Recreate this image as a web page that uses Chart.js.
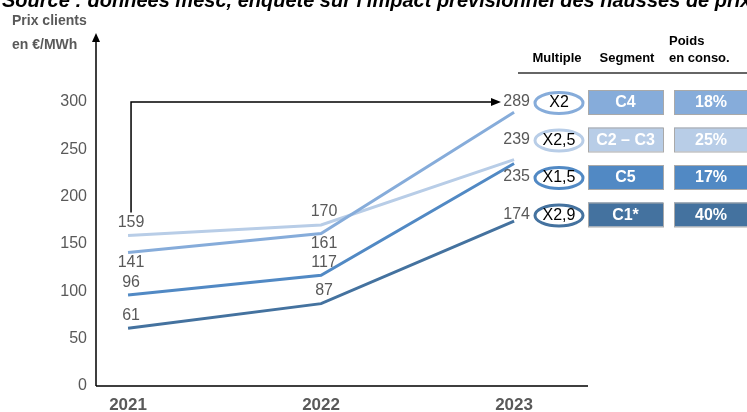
<!DOCTYPE html>
<html>
<head>
<meta charset="utf-8">
<script src="https://cdn.jsdelivr.net/npm/chart.js@4.4.1/dist/chart.umd.min.js"></script>
<style>
    html, body { margin: 0; padding: 0; background: #fff; }
    #wrap { position: relative; width: 747px; height: 412px; }
</style>
</head>
<body>
<div id="wrap"><canvas id="prixChart" width="747" height="412"></canvas></div>
<script>
// Prix clients par segment, en €/MWh
const years = [2021, 2022, 2023];
const yTicks = [0, 50, 100, 150, 200, 250, 300];

const prixC4 = [141, 161, 289];
const prixC2C3 = [159, 170, 239];
const prixC5 = [96, 117, 235];
const prixC1 = [61, 87, 174];

const segments = ['C4', 'C2 – C3', 'C5', 'C1*'];
const multiples = ['X2', 'X2,5', 'X1,5', 'X2,9'];
const poids = ['18%', '25%', '17%', '40%'];

const colors = ['#86acda', '#b8cde7', '#5189c4', '#44729f'];
const labelSide = ['below', 'above', 'above', 'above'];

const GREY = '#595959';
const NARROW = '"Liberation Sans Narrow", "Arial Narrow", sans-serif';
const SANS = '"Liberation Sans", Arial, sans-serif';

const seriesData = [prixC4, prixC2C3, prixC5, prixC1];

const decor = {
    id: 'decor',
    afterDatasetsDraw(chart) {
        const ctx = chart.ctx;
        const xs = chart.scales.x;
        const ys = chart.scales.y;
        const area = chart.chartArea;
        ctx.save();

        // axes
        ctx.strokeStyle = '#000';
        ctx.lineWidth = 1.5;
        ctx.beginPath();
        ctx.moveTo(area.left, area.bottom);
        ctx.lineTo(area.left, 40);
        ctx.moveTo(area.left, area.bottom);
        ctx.lineTo(area.right, area.bottom);
        ctx.stroke();
        ctx.fillStyle = '#000';
        ctx.beginPath();
        ctx.moveTo(area.left, 33);
        ctx.lineTo(area.left - 4, 42);
        ctx.lineTo(area.left + 4, 42);
        ctx.closePath();
        ctx.fill();

        // value labels 2021 / 2022
        ctx.font = '16px ' + SANS;
        ctx.fillStyle = GREY;
        ctx.textAlign = 'center';
        ctx.textBaseline = 'middle';
        seriesData.forEach((vals, i) => {
            for (let j = 0; j < 2; j++) {
                const px = xs.getPixelForValue(years[j]) + 3;
                const py = ys.getPixelForValue(vals[j]);
                const dy = labelSide[i] === 'below' ? 10 : -13;
                ctx.fillText(String(vals[j]), px, py + dy);
            }
        });

        // table rows for 2023
        const rowY = segments.map((s, i) => 102 + i * 37.5);

        // arrow from 2021 to the 2023 value
        const ax = xs.getPixelForValue(years[0]) + 3;
        ctx.strokeStyle = '#000';
        ctx.lineWidth = 1.5;
        ctx.beginPath();
        ctx.moveTo(ax, ys.getPixelForValue(prixC2C3[0]) - 23);
        ctx.lineTo(ax, rowY[0]);
        ctx.lineTo(492, rowY[0]);
        ctx.stroke();
        ctx.fillStyle = '#000';
        ctx.beginPath();
        ctx.moveTo(501, rowY[0]);
        ctx.lineTo(491, rowY[0] - 4);
        ctx.lineTo(491, rowY[0] + 4);
        ctx.closePath();
        ctx.fill();

        // header
        ctx.font = 'bold 13px ' + NARROW;
        ctx.fillStyle = '#000';
        ctx.textAlign = 'center';
        ctx.fillText('Multiple', 557, 58);
        ctx.fillText('Segment', 627, 58);
        ctx.textAlign = 'left';
        ctx.fillText('Poids', 669, 41);
        ctx.fillText('en conso.', 669, 58);
        ctx.strokeStyle = '#333';
        ctx.lineWidth = 1.5;
        ctx.beginPath();
        ctx.moveTo(518, 73);
        ctx.lineTo(747, 73);
        ctx.stroke();

        seriesData.forEach((vals, i) => {
            const y = rowY[i];
            // 2023 value
            ctx.font = '16px ' + SANS;
            ctx.fillStyle = GREY;
            ctx.textAlign = 'right';
            ctx.fillText(String(vals[2]), 530, y);

            // multiple in an ellipse
            ctx.strokeStyle = colors[i];
            ctx.lineWidth = 3;
            ctx.beginPath();
            ctx.ellipse(559, y + 1, 24, 10.5, 0, 0, Math.PI * 2);
            ctx.stroke();
            ctx.fillStyle = '#000';
            ctx.textAlign = 'center';
            ctx.fillText(multiples[i], 559, y + 1);

            // segment + weight boxes
            ctx.fillStyle = colors[i];
            ctx.strokeStyle = '#a9a9a9';
            ctx.lineWidth = 1;
            ctx.fillRect(588, y - 12, 75, 24);
            ctx.strokeRect(588.5, y - 11.5, 75, 24);
            ctx.fillRect(674, y - 12, 73, 24);
            ctx.strokeRect(674.5, y - 11.5, 73, 24);
            ctx.font = 'bold 16px ' + SANS;
            ctx.fillStyle = '#fff';
            ctx.fillText(segments[i], 625.5, y + 1);
            ctx.fillText(poids[i], 711, y + 1);
        });

        // unit label and source line
        ctx.font = 'bold 14px ' + NARROW;
        ctx.fillStyle = GREY;
        ctx.textAlign = 'left';
        ctx.fillText('Prix clients', 12, 21);
        ctx.fillText('en €/MWh', 12, 45);

        ctx.font = 'italic bold 20px ' + SANS;
        ctx.fillStyle = '#000';
        ctx.textBaseline = 'alphabetic';
        ctx.fillText("Source : données mesc, enquête sur l'impact prévisionnel des hausses de prix", 2, 7);

        ctx.restore();
    }
};

new Chart(document.getElementById('prixChart'), {
    type: 'line',
    data: {
        datasets: seriesData.map((vals, i) => ({
            label: segments[i],
            data: vals.map((v, j) => ({ x: years[j], y: v })),
            borderColor: colors[i],
            borderWidth: 3,
            pointRadius: 0,
            tension: 0,
            fill: false,
        }))
    },
    options: {
        responsive: false,
        animation: false,
        events: [],
        layout: { padding: { top: 83, right: 159, left: 0, bottom: 0 } },
        plugins: {
            legend: { display: false },
            tooltip: { enabled: false },
        },
        scales: {
            x: {
                type: 'linear',
                min: 2020.834,
                max: 2023.383,
                afterBuildTicks: s => { s.ticks = years.map(v => ({ value: v })); },
                afterFit: s => { s.height = 26; },
                grid: { display: false, drawTicks: false },
                border: { display: false },
                ticks: {
                    padding: 9,
                    color: GREY,
                    font: { family: SANS, size: 17, weight: 'bold' },
                    callback: v => String(v),
                },
            },
            y: {
                min: 0,
                max: 320,
                afterBuildTicks: s => { s.ticks = yTicks.map(v => ({ value: v })); },
                afterFit: s => { s.width = 96; },
                grid: { display: false, drawTicks: false },
                border: { display: false },
                ticks: {
                    padding: 9,
                    color: GREY,
                    font: { family: SANS, size: 16 },
                },
            }
        }
    },
    plugins: [decor]
});
</script>
</body>
</html>
